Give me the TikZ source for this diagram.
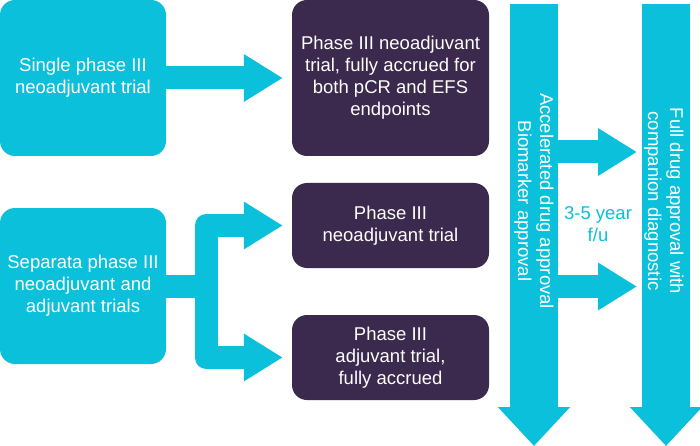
\documentclass[tikz,border=0pt]{standalone}
\usepackage{fontspec}
\setmainfont{Liberation Sans}
\usetikzlibrary{arrows.meta}
\definecolor{trialcyan}{HTML}{0AC0DB}
\definecolor{trialpurple}{HTML}{3B2A4D}

\begin{document}
\begin{tikzpicture}[x=1pt,y=-1pt]
\tikzstyle{every node}+=[inner sep=0pt, font=\fontsize{18.5}{22}\selectfont, align=center]
\tikzstyle{design}=[fill=trialcyan, text=white, rounded corners=15pt, minimum width=166pt, minimum height=156pt]
\tikzstyle{trial}=[fill=trialpurple, text=white, rounded corners=15pt, minimum width=197pt]
\tikzstyle{fat}=[draw=trialcyan, line width=23pt, line join=round, shorten >=9pt, -{Triangle[length=39pt, width=45pt]}]
\tikzstyle{approval}=[draw=trialcyan, line width=48pt, -{Triangle[length=39pt, width=70pt]}]
\useasboundingbox (0,0) rectangle (700,446);
% trial designs
\node [design] (single) at (83,78) {Single phase III\\neoadjuvant trial};
\node [design] (separate) at (83,286) {Separata phase III\\neoadjuvant and\\adjuvant trials};
% trials
\node [trial, minimum height=156pt] (both) at (390.5,78) {Phase III neoadjuvant\\trial, fully accrued for\\both pCR and EFS\\endpoints};
\node [trial, minimum height=85pt] (neo) at (390.5,225.5) {Phase III\\neoadjuvant trial};
\node [trial, minimum height=85pt] (adj) at (390.5,357.5) {Phase III\\adjuvant trial,\\fully accrued};
\draw [fat] (single.east) -- (both.west);
\draw [fat] (separate.east) -- (206,286) |- (neo.west);
\draw [fat] (separate.east) -- (206,286) |- (adj.west);
% approvals
\coordinate (acctop) at (534,4);
\coordinate (accend) at (534,446);
\coordinate (fulltop) at (666,4);
\coordinate (fullend) at (666,446);
\draw [approval] (acctop) -- (accend);
\draw [approval] (fulltop) -- (fullend);
\coordinate (upfrom) at (557,152);
\coordinate (upto) at (646,152);
\coordinate (lowfrom) at (557,286.5);
\coordinate (lowto) at (646,286.5);
\draw [fat] (upfrom) -- (upto);
\draw [fat] (lowfrom) -- (lowto);
\node [rotate=-90, text=white] (acc) at (534,201) {Accelerated drug approval\\Biomarker approval};
\node [rotate=-90, text=white] (full) at (664,201) {Full drug approval with\\companion diagnostic};
\node [text=trialcyan] (fu) at (598,224) {3-5 year\\f/u};
\end{tikzpicture}
\end{document}
